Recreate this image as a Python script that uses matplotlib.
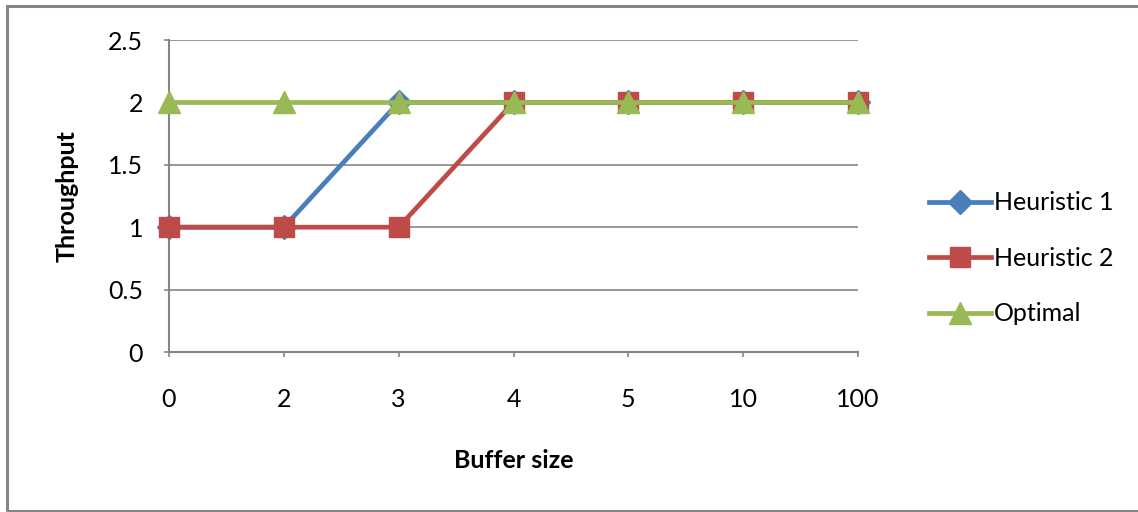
import matplotlib.pyplot as plt
from matplotlib.patches import Rectangle

# Data
buffer_sizes = ['0', '2', '3', '4', '5', '10', '100']
heuristic1 = [1, 1, 2, 2, 2, 2, 2]
heuristic2 = [1, 1, 1, 2, 2, 2, 2]
optimal = [2, 2, 2, 2, 2, 2, 2]

plt.rcParams['font.family'] = ['Lato', 'DejaVu Sans']

fig = plt.figure(figsize=(11.38, 5.12), dpi=100)
ax = fig.add_axes([169 / 1138, 1 - 352 / 512, (858 - 169) / 1138, (352 - 40) / 512])

# Outer chart border
fig.patches.append(Rectangle((7 / 1138, 1 / 512), 1.2, 1 - 7 / 512, transform=fig.transFigure,
                             fill=False, edgecolor='#868686', linewidth=2.2))

x = list(range(len(buffer_sizes)))
ax.plot(x, heuristic1, color='#4a7ebb', lw=3.4, marker='D', markersize=12, label='Heuristic 1', clip_on=False, zorder=3)
ax.plot(x, heuristic2, color='#be4b48', lw=3.4, marker='s', markersize=15, label='Heuristic 2', clip_on=False, zorder=4)
ax.plot(x, optimal, color='#98b954', lw=3.4, marker='^', markersize=16, label='Optimal', clip_on=False, zorder=5)

ax.set_xlim(0, 6)
ax.set_ylim(0, 2.5)
ax.set_xticks(x)
ax.set_xticklabels(buffer_sizes)
ax.set_yticks([0, 0.5, 1, 1.5, 2, 2.5])
ax.set_yticklabels(['0', '0.5', '1', '1.5', '2', '2.5'])
ax.yaxis.grid(True, color='#868686', lw=1.2)
ax.set_axisbelow(True)

for s in ['top', 'right']:
    ax.spines[s].set_visible(False)
for s in ['left', 'bottom']:
    ax.spines[s].set_color('#868686')
    ax.spines[s].set_linewidth(1.5)
ax.tick_params(axis='both', colors='#868686', labelcolor='black', labelsize=18, length=3.6, width=1.2)
ax.tick_params(axis='x', pad=22)
ax.tick_params(axis='y', pad=15)

ax.set_xlabel('Buffer size', fontsize=18, fontweight='bold', labelpad=28)
ax.set_ylabel('Throughput', fontsize=18, fontweight='bold', labelpad=21)

ax.legend(loc='center left', bbox_to_anchor=(1.07, 0.3), frameon=False, fontsize=18,
          handlelength=2.5, handletextpad=0.1, labelspacing=1.3)

fig.savefig('out.png', dpi=100)
